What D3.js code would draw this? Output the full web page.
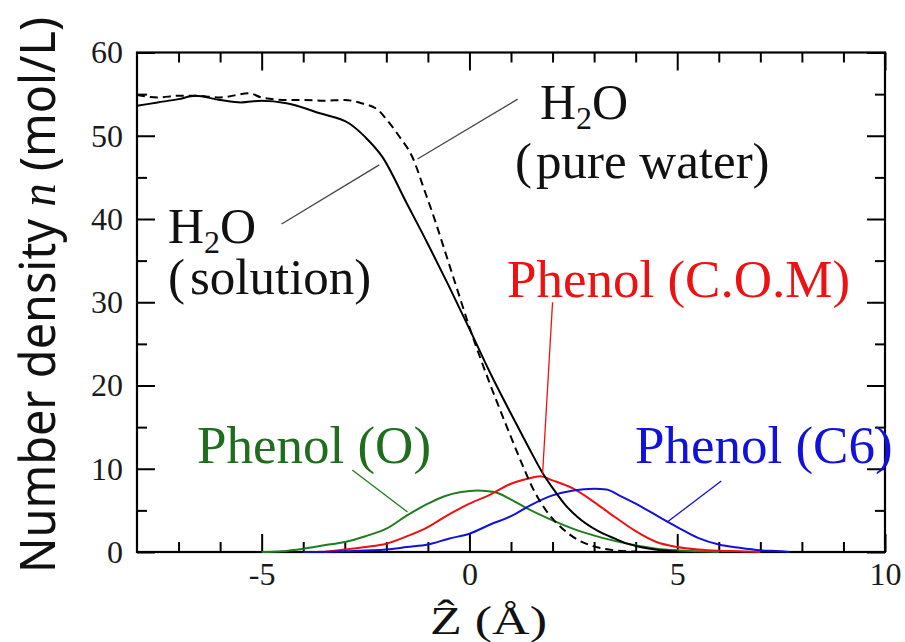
<!DOCTYPE html>
<meta charset="utf-8">
<style>
body { margin: 0; background: #fff; }
text { font-family: "Liberation Serif", "Times New Roman", serif; }
</style>
<svg id="chart" width="905" height="642"></svg>
<script src="https://cdn.jsdelivr.net/npm/d3@7"></script>
<script>

// number density profiles [Z (A), n (mol/L)]
var waterSolution = [[-8,53.6],[-7.5,54.0],[-7,54.4],[-6.6,54.8],[-6,54.3],[-5.5,54.0],[-5,54.2],[-4.4,53.9],
	[-3.6,52.7],[-2.9,51.5],[-2.5,49.8],[-2.1,47.5],[-1.5,41.8],[-1.0,37.0],[-0.5,32.0],[0,26.8],[0.5,21.5],
	[1.0,16.6],[1.4,12.8],[1.76,9.5],[2.0,7.7],[2.3,5.7],[2.6,4.2],[3.1,2.5],[3.5,1.6],[3.8,1.0],[4.2,0.5],
	[4.6,0.2],[5.0,0.05]];
var waterPure = [[-8,54.9],[-7.5,54.6],[-7,54.8],[-6.6,54.8],[-6,54.6],[-5.3,55.1],[-5,54.6],[-4.4,54.3],[-4,54.3],
	[-3.5,54.2],[-3,54.3],[-2.6,53.9],[-2.2,53.1],[-2.0,52.0],[-1.7,50.0],[-1.36,47.3],[-1.1,43.7],[-0.8,39.4],
	[-0.6,36.3],[-0.24,30.7],[0,27.0],[0.24,23.6],[0.64,18.3],[1.0,13.8],[1.28,10.4],[1.52,7.7],[1.76,5.6],
	[2.0,4.0],[2.24,2.8],[2.56,1.6],[3.05,0.6],[3.5,0.2],[4.0,0.05]];
var phenolCOM = [[-3.5,0.0],[-3,0.3],[-2.5,0.6],[-2,1.0],[-1.5,1.9],[-1.0,3.0],[-0.5,4.5],[0,5.8],[0.5,6.9],
	[1.0,8.2],[1.4,8.8],[1.7,9.1],[2.0,8.6],[2.5,7.6],[3.0,6.0],[3.5,4.2],[4.0,2.5],[4.5,1.2],[5.0,0.6],
	[5.5,0.3],[6.0,0.15],[6.5,0.1],[7,0.0]];
var phenolO = [[-5,0.0],[-4.5,0.1],[-4,0.4],[-3.5,0.8],[-3,1.2],[-2.5,1.9],[-2,2.8],[-1.5,4.4],[-1.0,5.8],
	[-0.6,6.7],[-0.2,7.2],[0.2,7.4],[0.6,7.2],[1.0,6.3],[1.4,5.2],[2.0,3.8],[2.6,2.6],[3.2,1.7],[3.9,0.9],
	[4.5,0.4],[5.0,0.2],[5.5,0.1],[6.0,0.0]];
var phenolC6 = [[-4,0.0],[-3,0.1],[-2,0.3],[-1.5,0.6],[-1,0.9],[-0.5,1.6],[0,2.2],[0.5,3.3],[1.0,4.3],[1.5,5.7],
	[2.0,6.8],[2.5,7.4],[3.0,7.6],[3.3,7.5],[3.6,6.8],[4.0,5.8],[4.5,4.4],[5.0,3.0],[5.5,1.7],[6.0,0.9],
	[6.5,0.5],[7.0,0.2],[7.5,0.1],[7.7,0.0]];

var xMajor = [-5, 0, 5, 10];
var xMinor = [-7, -6, -4, -3, -2, -1, 1, 2, 3, 4, 6, 7, 8, 9];
var yMajor = [0, 10, 20, 30, 40, 50, 60];
var yMinor = [5, 15, 25, 35, 45, 55];

var svg = d3.select("svg#chart"),
	margin = {top: 52.5, right: 20, bottom: 90, left: 137},
	width = +svg.attr("width") - margin.left - margin.right,
	height = +svg.attr("height") - margin.top - margin.bottom;

var x = d3.scaleLinear().domain([-8, 10]).range([0, width]);
var y = d3.scaleLinear().domain([0, 60]).range([height, 0]);

var g = svg.append("g").attr("transform", "translate(" + margin.left + "," + margin.top + ")");

var line = d3.line()
	.x(function(d) { return x(d[0]); })
	.y(function(d) { return y(d[1]); })
	.curve(d3.curveMonotoneX);

var plain = function(d) { return String(d); };

// axes, ticks inward on all four sides
function styleAxis(sel) {
	sel.select(".domain").remove();
	sel.selectAll(".tick line").attr("stroke", "#000").attr("stroke-width", 2);
	sel.selectAll(".tick text")
		.style("font-family", "'Liberation Serif', serif")
		.attr("font-size", 32)
		.attr("fill", "#1a1a1a");
}
g.append("g").attr("transform", "translate(0," + height + ")")
	.call(d3.axisBottom(x).tickValues(xMajor).tickSize(-18).tickPadding(10).tickFormat(plain))
	.call(styleAxis);
g.append("g").attr("transform", "translate(0," + height + ")")
	.call(d3.axisBottom(x).tickValues(xMinor).tickSize(-10).tickFormat(""))
	.call(styleAxis);
g.append("g")
	.call(d3.axisTop(x).tickValues(xMajor).tickSize(-18).tickFormat(""))
	.call(styleAxis);
g.append("g")
	.call(d3.axisTop(x).tickValues(xMinor).tickSize(-10).tickFormat(""))
	.call(styleAxis);
g.append("g")
	.call(d3.axisLeft(y).tickValues(yMajor).tickSize(-18).tickPadding(14).tickFormat(plain))
	.call(styleAxis);
g.append("g")
	.call(d3.axisLeft(y).tickValues(yMinor).tickSize(-10).tickFormat(""))
	.call(styleAxis);
g.append("g").attr("transform", "translate(" + width + ",0)")
	.call(d3.axisRight(y).tickValues(yMajor).tickSize(-18).tickFormat(""))
	.call(styleAxis);
g.append("g").attr("transform", "translate(" + width + ",0)")
	.call(d3.axisRight(y).tickValues(yMinor).tickSize(-10).tickFormat(""))
	.call(styleAxis);

g.append("rect")
	.attr("width", width).attr("height", height)
	.attr("fill", "none").attr("stroke", "#000").attr("stroke-width", 2.2);

// curves
var series = [
	{data: phenolO, color: "#1e7d1e", dash: null},
	{data: phenolCOM, color: "#ee1111", dash: null},
	{data: phenolC6, color: "#1111dd", dash: null},
	{data: waterPure, color: "#000", dash: "8,5"},
	{data: waterSolution, color: "#000", dash: null}
];
g.selectAll("path.curve")
	.data(series)
	.enter().append("path")
		.attr("class", "curve")
		.attr("d", function(d) { return line(d.data); })
		.attr("fill", "none")
		.attr("stroke", function(d) { return d.color; })
		.attr("stroke-width", 2)
		.attr("stroke-dasharray", function(d) { return d.dash; });

// leader lines (data units)
var leaders = [
	{from: [-4.52, 39.4], to: [-2.17, 46.5], color: "#444"},
	{from: [-1.25, 47.2], to: [1.16, 54.4], color: "#444"},
	{from: [2.0, 30.0], to: [1.76, 9.4], color: "#ee1111"},
	{from: [-2.82, 9.85], to: [-1.49, 4.8], color: "#1e7d1e"},
	{from: [6.06, 8.53], to: [4.76, 3.6], color: "#1111dd"}
];
g.selectAll("line.leader")
	.data(leaders)
	.enter().append("line")
		.attr("class", "leader")
		.attr("x1", function(d) { return x(d.from[0]); })
		.attr("y1", function(d) { return y(d.from[1]); })
		.attr("x2", function(d) { return x(d.to[0]); })
		.attr("y2", function(d) { return y(d.to[1]); })
		.attr("stroke", function(d) { return d.color; })
		.attr("stroke-width", 1.3);

// labels
function h2o(px, py) {
	var t = svg.append("text").attr("x", px).attr("y", py).attr("font-size", 50).attr("fill", "#111");
	t.append("tspan").text("H");
	t.append("tspan").attr("font-size", 32).attr("dy", 10).text("2");
	t.append("tspan").attr("dy", -10).text("O");
}
h2o(168, 243);
svg.append("text").attr("x", 168).attr("y", 294).attr("font-size", 51).attr("fill", "#111")
	.text("(").append("tspan").attr("dx", 5).text("solution)");
h2o(540, 119);
svg.append("text").attr("x", 515).attr("y", 178).attr("font-size", 51).attr("fill", "#111")
	.text("(").append("tspan").attr("dx", 4).text("pure water)");

svg.append("text").attr("x", 507).attr("y", 297).attr("font-size", 53).attr("fill", "#ee1111").text("Phenol (C.O.M)");
svg.append("text").attr("x", 197).attr("y", 463).attr("font-size", 53).attr("fill", "#1e6e1e").text("Phenol (O)");
svg.append("text").attr("x", 635).attr("y", 463).attr("font-size", 53).attr("fill", "#1111dd").text("Phenol (C6)");

// axis titles
var yt = svg.append("text")
	.attr("transform", "translate(55,295) rotate(-90)")
	.attr("text-anchor", "middle")
	.attr("font-size", 50)
	.attr("fill", "#111")
	.attr("textLength", 556)
	.attr("lengthAdjust", "spacingAndGlyphs");
yt.append("tspan").style("font-family", "'Noto Sans', sans-serif").text("Number density ");
yt.append("tspan").style("font-family", "'Liberation Serif', serif").style("font-style", "italic").text("n");
yt.append("tspan").style("font-family", "'Noto Sans', sans-serif").text(" (mol/L)");

svg.append("text")
	.attr("x", 430).attr("y", 634)
	.attr("font-size", 40)
	.attr("fill", "#111")
	.attr("textLength", 117)
	.attr("lengthAdjust", "spacingAndGlyphs")
	.text("\u1E90 (\u00C5)");

</script>
